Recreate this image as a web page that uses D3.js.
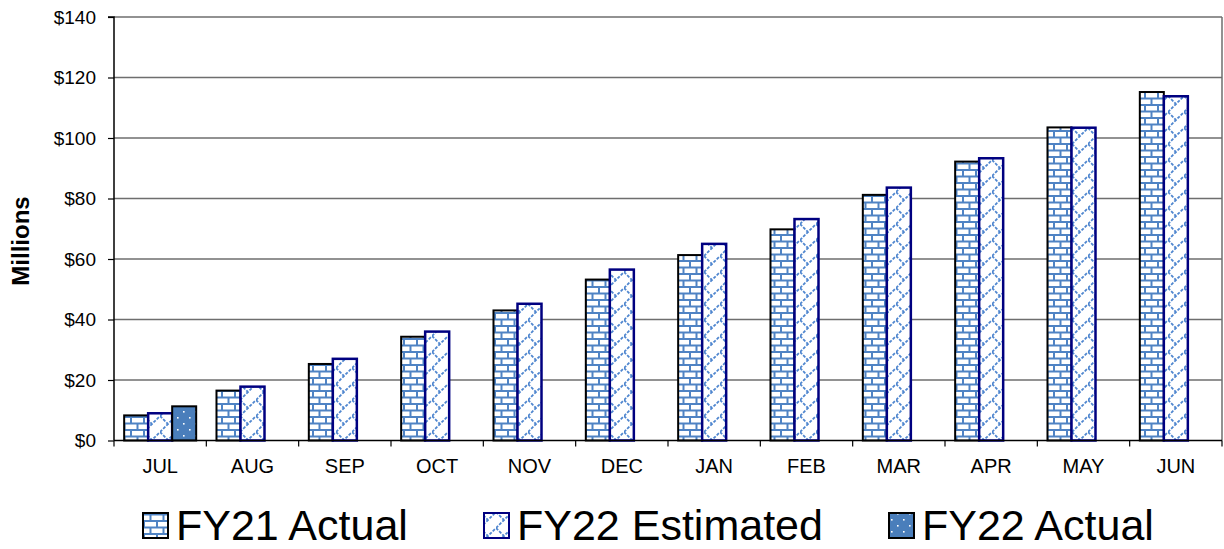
<!DOCTYPE html>
<html>
<head>
<meta charset="utf-8">
<script src="https://cdn.jsdelivr.net/npm/d3@7"></script>
<style>
  html, body { margin: 0; padding: 0; background: #fff; }
  svg { display: block; font-family: "Liberation Sans", Arial, sans-serif; }
</style>
</head>
<body>
<svg id="chart" width="1224" height="549"></svg>
<script>
const months = ["JUL","AUG","SEP","OCT","NOV","DEC","JAN","FEB","MAR","APR","MAY","JUN"];
const fy21Actual = [8.3, 16.5, 25.3, 34.3, 43.0, 53.2, 61.3, 69.8, 81.2, 92.2, 103.5, 115.2];
const fy22Estimated = [9.0, 17.8, 27.0, 36.0, 45.2, 56.5, 65.0, 73.2, 83.6, 93.3, 103.4, 113.8];
const fy22Actual = [11.3, null, null, null, null, null, null, null, null, null, null, null];
const seriesNames = ["FY21 Actual", "FY22 Estimated", "FY22 Actual"];
const yTicks = [0, 20, 40, 60, 80, 100, 120, 140];

(function () {
const svg = d3.select("#chart");
const mLeft = 114, mRight = 1222, mTop = 17, mBottom = 440.5;
const FONT = '"Liberation Sans", Arial, sans-serif';

const defs = svg.append("defs");
// brick pattern
const brick = defs.append("pattern").attr("id","brick").attr("patternUnits","userSpaceOnUse")
  .attr("width",13).attr("height",13);
brick.append("rect").attr("width",13).attr("height",13).attr("fill","#fff");
const bc = "#4f83c4";
brick.append("line").attr("x1",0).attr("x2",13).attr("y1",1).attr("y2",1).attr("stroke",bc).attr("stroke-width",2);
brick.append("line").attr("x1",0).attr("x2",13).attr("y1",7.5).attr("y2",7.5).attr("stroke",bc).attr("stroke-width",2);
brick.append("line").attr("x1",1).attr("x2",1).attr("y1",1).attr("y2",7.5).attr("stroke",bc).attr("stroke-width",2);
brick.append("line").attr("x1",7.5).attr("x2",7.5).attr("y1",7.5).attr("y2",14).attr("stroke",bc).attr("stroke-width",2);

// dashed diagonal pattern
const diag = defs.append("pattern").attr("id","diag").attr("patternUnits","userSpaceOnUse")
  .attr("width",16).attr("height",16);
diag.append("rect").attr("width",16).attr("height",16).attr("fill","#fff");
const dc = "#4f86cf";
diag.append("path").attr("d","M0,16 L16,0").attr("stroke",dc).attr("stroke-width",1.8).attr("stroke-dasharray","3,1.5");
diag.append("path").attr("d","M0,0 L8,8").attr("stroke",dc).attr("stroke-width",1.8).attr("stroke-dasharray","3,1.5");

// dots pattern
const dots = defs.append("pattern").attr("id","dots").attr("patternUnits","userSpaceOnUse")
  .attr("width",12).attr("height",12);
dots.append("rect").attr("width",12).attr("height",12).attr("fill","#4a7ebb");
dots.append("rect").attr("x",3).attr("y",3).attr("width",1.6).attr("height",1.6).attr("fill","#fff");
dots.append("rect").attr("x",9).attr("y",9).attr("width",1.6).attr("height",1.6).attr("fill","#fff");

const x0 = d3.scaleBand().domain(months).range([mLeft, mRight]).paddingInner(0.22).paddingOuter(0.11);
const x1 = d3.scaleBand().domain([0,1,2]).range([0, x0.bandwidth()]).padding(0);
const y = d3.scaleLinear().domain([0, 140]).range([mBottom, mTop]);

// gridlines
svg.append("g").selectAll("line").data(yTicks.filter(d => d > 0)).join("line")
  .attr("x1", mLeft).attr("x2", mRight)
  .attr("y1", d => y(d)).attr("y2", d => y(d))
  .attr("stroke", "#6e6e6e").attr("stroke-width", 1.5);
// right border
svg.append("line").attr("x1", mRight).attr("x2", mRight).attr("y1", y(140)).attr("y2", mBottom)
  .attr("stroke","#6e6e6e").attr("stroke-width",1.5);

// bars
const styles = [
  {fill: "url(#brick)", stroke: "#000"},
  {fill: "url(#diag)", stroke: "#000080"},
  {fill: "url(#dots)", stroke: "#000"}
];
const allSeries = [fy21Actual, fy22Estimated, fy22Actual];
allSeries.forEach((vals, si) => {
  svg.append("g").selectAll("rect")
    .data(vals.map((v, i) => ({m: months[i], v})).filter(d => d.v != null))
    .join("rect")
    .attr("x", d => x0(d.m) + x1(si))
    .attr("width", x1.bandwidth())
    .attr("y", d => y(d.v))
    .attr("height", d => y(0) - y(d.v))
    .attr("fill", styles[si].fill)
    .attr("stroke", styles[si].stroke)
    .attr("stroke-width", si === 1 ? 2.5 : 2);
});

// y axis
const yAxis = d3.axisLeft(y).tickValues(yTicks).tickSize(6).tickPadding(12)
  .tickFormat(d => "$" + d);
const gy = svg.append("g").attr("transform", `translate(${mLeft},0)`).call(yAxis);
gy.select(".domain").attr("stroke","#000").attr("stroke-width",1.5).attr("d", `M-6,${y(140)}H0V${mBottom}`);
gy.selectAll(".tick line").attr("stroke","#000").attr("stroke-width",1.2);
gy.selectAll("text").attr("font-size", 19).attr("fill","#000").attr("font-family", FONT);

// x axis
const gx = svg.append("g").attr("transform", `translate(0,${mBottom})`);
gx.append("line").attr("x1", mLeft).attr("x2", mRight).attr("stroke","#000").attr("stroke-width",1.5);
const step = x0.step();
gx.selectAll("line.tk").data(d3.range(months.length + 1)).join("line").attr("class","tk")
  .attr("x1", i => mLeft + i * step).attr("x2", i => mLeft + i * step)
  .attr("y1", 0).attr("y2", 6).attr("stroke","#000").attr("stroke-width",1.2);
gx.selectAll("text").data(months).join("text")
  .attr("x", d => x0(d) + x0.bandwidth() / 2)
  .attr("y", 32.5)
  .attr("text-anchor","middle").attr("font-size",20).attr("fill","#000").text(d => d);

// y label
svg.append("text").attr("transform", `translate(29,241) rotate(-90)`)
  .attr("text-anchor","middle").attr("font-size",24).attr("font-weight","bold").text("Millions");

// legend
const legX = [143, 484, 889];
const lg = svg.append("g");
seriesNames.forEach((name, i) => {
  lg.append("rect").attr("x", legX[i]).attr("y", 513).attr("width", 25).attr("height", 25)
    .attr("fill", styles[i].fill).attr("stroke", styles[i].stroke).attr("stroke-width", 2);
  lg.append("text").attr("x", legX[i] + 33).attr("y", 540)
    .attr("font-size", 43).attr("fill","#000").text(name);
});
})();
</script>
</body>
</html>
